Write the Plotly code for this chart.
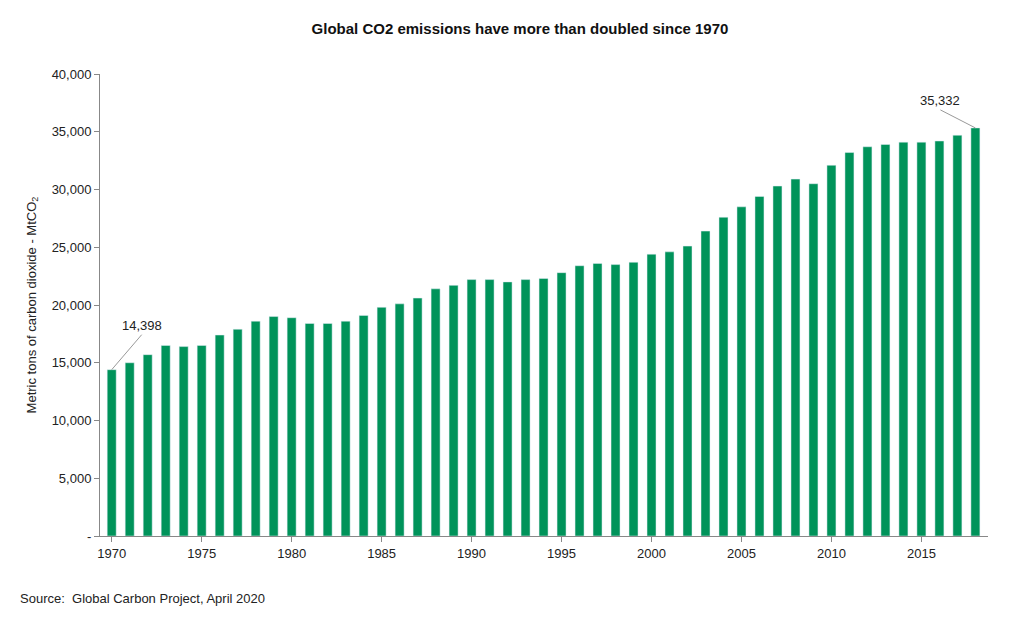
import plotly.graph_objects as go

years = list(range(1970, 2019))
emissions = [14398, 15000, 15700, 16500, 16400, 16500, 17400, 17900, 18600, 19000,
             18900, 18400, 18400, 18600, 19100, 19800, 20100, 20600, 21400, 21700,
             22200, 22200, 22000, 22200, 22300, 22800, 23400, 23600, 23500, 23700,
             24400, 24600, 25100, 26400, 27600, 28500, 29400, 30300, 30900, 30500,
             32100, 33200, 33700, 33900, 34100, 34100, 34200, 34700, 35332]
y_ticks = [0, 5000, 10000, 15000, 20000, 25000, 30000, 35000, 40000]
y_labels = ["-"] + [f"{v:,}" for v in y_ticks[1:]]

font = "Liberation Sans Narrow, Liberation Sans, Arial"

fig = go.Figure(go.Bar(x=years, y=emissions, marker_color="#00935a", width=0.5))

fig.add_annotation(x=years[0], y=emissions[0], text=f"{emissions[0]:,}", showarrow=True,
                   arrowhead=0, arrowcolor="#999", arrowwidth=1, ax=30, ay=-35,
                   xanchor="center", yanchor="bottom", font=dict(size=13, color="#222"))
fig.add_annotation(x=years[-1], y=emissions[-1], text=f"{emissions[-1]:,}", showarrow=True,
                   arrowhead=0, arrowcolor="#999", arrowwidth=1, ax=-35, ay=-18,
                   xanchor="center", yanchor="bottom", font=dict(size=13, color="#222"))
fig.add_annotation(x=0, y=0, xref="paper", yref="paper", xshift=-82, yshift=-62,
                   text="Source:  Global Carbon Project, April 2020", showarrow=False,
                   xanchor="left", yanchor="middle", font=dict(size=13, color="#222"))

fig.update_layout(
    width=1024, height=624,
    title=dict(text="<b>Global CO2 emissions have more than doubled since 1970</b>",
               x=0.5, xanchor="center", y=0.975, font=dict(size=15, color="#111")),
    font=dict(family=font, size=13, color="#222"),
    plot_bgcolor="white", paper_bgcolor="white",
    margin=dict(l=92, r=44, t=66, b=96),
    showlegend=False,
    xaxis=dict(range=[1969.35, 2018.7], tickmode="array", tickvals=list(range(1970, 2019, 5)),
               showline=True, linecolor="#888", ticks="outside", tickcolor="#888",
               ticklen=5, showgrid=False),
    yaxis=dict(range=[0, 40000], tickvals=y_ticks, ticktext=y_labels,
               showline=True, linecolor="#888", ticks="outside", tickcolor="#888",
               ticklen=5, showgrid=False,
               title=dict(text="Metric tons of carbon dioxide - MtCO<sub>2</sub>",
                          font=dict(size=13), standoff=12)),
)

fig.write_html("out.html")
